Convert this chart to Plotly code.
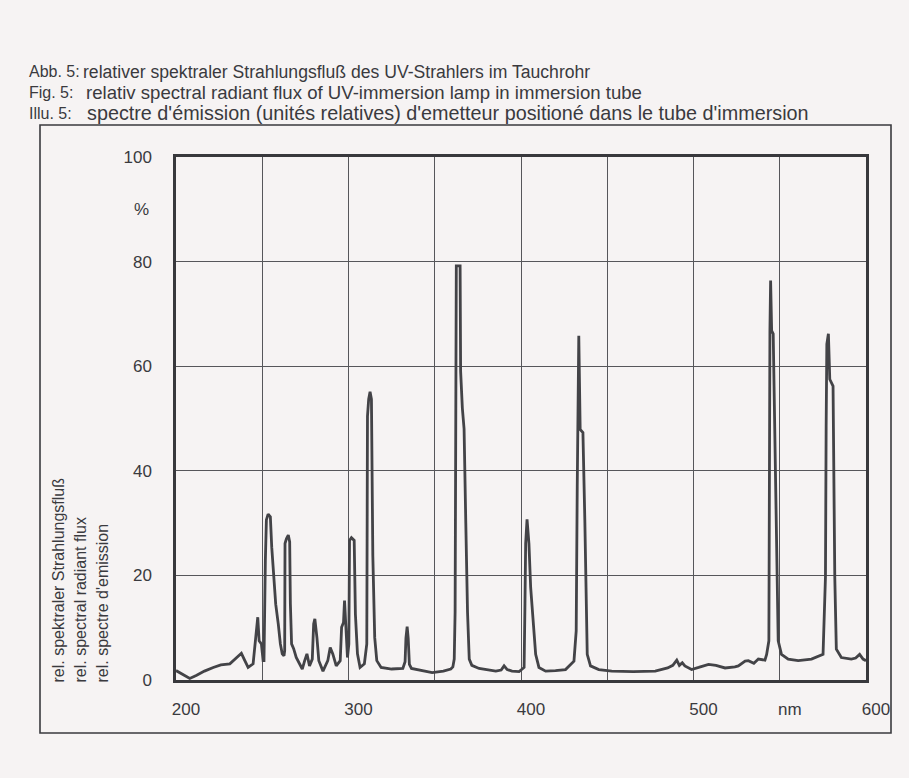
import plotly.graph_objects as go

# ---- data ----
wavelength_nm = [
    200.0, 202.3, 205, 208, 212, 216.5, 221.6, 226, 231.2, 235.1, 237.9, 239.9, 241.8, 244.7,
    246.2, 247.4, 248.2, 249.5, 250.5, 251.0, 251.8, 252.4, 253.4, 254.7, 255.5, 256.6, 257.8,
    259.3, 260.5, 261.6, 262.6, 263.0, 263.2, 264.0, 265.1, 265.9, 266.3, 267.0, 268.2, 269.7,
    271.7, 273.2, 274.6, 275.9, 277.4, 279.0, 279.8, 280.5, 281.7, 282.8, 285.2, 288.0, 289.4,
    290.9, 292.9, 295.2, 296.0, 297.1, 297.7, 298.6, 299.4, 300.2, 300.6, 301.7, 303.3, 304.0,
    305.2, 306.7, 309.2, 310.6, 311.0, 311.7, 312.5, 313.3, 314.1, 315.2, 316.4, 318.9, 325,
    331.5, 332.8, 333.3, 334.0, 334.6, 335.3, 336.5, 342, 348.5, 355, 359.3, 360.5, 361.3,
    361.8, 362.2, 362.3, 362.5, 364.7, 365.0, 366.0, 367.0, 368.0, 369.0, 370.0, 371.5, 375.7,
    385.4, 388.5, 390.2, 392, 394.8, 398.9, 401.8, 402.3, 402.7, 403.5, 404.6, 405.6, 406.9,
    408.5, 410.4, 414.3, 420, 425.8, 430.7, 432.0, 432.6, 433.0, 433.5, 434.3, 435.9, 437.0,
    438.4, 440.3, 445.1, 452.6, 465, 477.8, 485, 488, 490.3, 491.8, 493.5, 495, 498.9, 503,
    508.7, 513, 518.3, 524, 526, 529.9, 531.8, 535, 537.6, 541.4, 542.4, 543.7, 543.9, 544.3,
    544.7, 545.3, 546.2, 547.3, 548.2, 549.1, 551.0, 554.9, 560.7, 568.4, 575.1, 576.5, 576.9,
    577.3, 578.2, 579.0, 580.9, 581.9, 582.8, 585.7, 591.5, 594, 596.3, 598.3, 600,
]
rel_flux_pct = [
    1.8, 1.4, 0.8, 0.3, 0.9, 1.7, 2.4, 2.9, 3.1, 4.3, 5.1, 3.7, 2.4, 3.1,
    8.8, 12.0, 7.5, 6.9, 3.7, 3.7, 22.9, 30.6, 31.7, 31.2, 25.4, 19.7, 14.5,
    10.7, 6.9, 5.0, 4.6, 5.6, 26.1, 27.0, 27.7, 26.4, 14.6, 6.9, 6.0, 4.3,
    3.1, 2.1, 3.7, 5.0, 2.7, 4.0, 10.7, 11.7, 8.1, 3.7, 1.7, 3.7, 6.2,
    5.0, 2.7, 3.7, 10.1, 11.0, 15.2, 9.4, 4.3, 6.9, 26.7, 27.2, 26.7, 12.6,
    5.0, 2.4, 3.1, 6.9, 50.4, 53.7, 55.1, 53.7, 23.8, 8.1, 3.7, 2.4, 2.1,
    2.2, 3.5, 8.0, 10.2, 8.0, 3.0, 2.2, 1.8, 1.4, 1.7, 2.1, 2.5, 4.0,
    13.0, 45.0, 58.8, 79.2, 79.2, 59.0, 52.0, 48.0, 30.0, 13.0, 4.0, 2.8, 2.2,
    1.7, 1.9, 2.7, 2.0, 1.7, 1.6, 2.4, 14.6, 26.1, 30.7, 26.1, 17.7, 11.3,
    4.9, 2.4, 1.7, 1.8, 2.0, 3.6, 9.4, 37.0, 47.9, 65.8, 47.9, 47.3, 30.6,
    4.9, 2.7, 2.0, 1.7, 1.6, 1.7, 2.3, 2.8, 3.8, 2.8, 3.3, 2.7, 2.0, 2.4,
    3.0, 2.8, 2.3, 2.5, 2.7, 3.6, 3.7, 3.2, 4.0, 3.8, 4.9, 7.5, 49.8, 66.8,
    76.4, 66.8, 66.2, 45.0, 30.0, 7.5, 4.9, 4.0, 3.7, 4.0, 4.9, 19.7, 48.5,
    64.2, 66.2, 57.5, 56.2, 19.7, 5.9, 4.3, 4.0, 4.2, 4.9, 4.0, 3.7,
]

x_tickvals = [200, 250, 300, 350, 400, 450, 500, 550, 600]
x_ticktext = ["200", "", "300", "", "400", "", "500", "nm", "600"]
y_tickvals = [0, 20, 40, 60, 80, 100]
y_ticktext = ["0", "20", "40", "60", "80", "100"]

title_labels = ["Abb. 5:", "Fig. 5:", "Illu. 5:"]
title_texts = [
    "relativer spektraler Strahlungsfluß des UV-Strahlers im Tauchrohr",
    "relativ spectral radiant flux of UV-immersion lamp in immersion tube",
    "spectre d'émission (unités relatives) d'emetteur positioné dans le tube d'immersion",
]
ytitle_lines = [
    "rel. spektraler Strahlungsfluß",
    "rel. spectral radiant flux",
    "rel. spectre d'emission",
]

INK = "#3a3a3e"
BG = "#f6f3f3"
FONT = "Liberation Sans, Arial, sans-serif"

fig = go.Figure()
fig.add_trace(go.Scatter(
    x=wavelength_nm, y=rel_flux_pct, mode="lines",
    line=dict(color="#434347", width=2.8), hoverinfo="skip", showlegend=False,
))

W, H = 909, 778
L, R, T, B = 176, 43, 157, 98
pw, ph = W - L - R, H - T - B

def px2paper_x(px):
    return (px - L) / pw

def py2paper_y(py):
    return (H - B - py) / ph

annotations = []
# Title lines
title_y = [72, 92, 113]
text_sizes = [17.6, 18.6, 19.8]
text_x = [81, 84, 85]
for i in range(3):
    annotations.append(dict(
        text=title_labels[i], x=px2paper_x(27), y=py2paper_y(title_y[i]),
        xref="paper", yref="paper", xanchor="left", yanchor="middle", showarrow=False,
        font=dict(family=FONT, size=16, color=INK),
    ))
    annotations.append(dict(
        text=title_texts[i], x=px2paper_x(text_x[i]), y=py2paper_y(title_y[i]),
        xref="paper", yref="paper", xanchor="left", yanchor="middle", showarrow=False,
        font=dict(family=FONT, size=text_sizes[i], color=INK),
    ))
# Rotated y-axis title lines (left-aligned from bottom)
ytitle_x = [58, 80, 102]
for i in range(3):
    annotations.append(dict(
        text=ytitle_lines[i], x=px2paper_x(ytitle_x[i]), y=py2paper_y(685),
        xref="paper", yref="paper", xanchor="center", yanchor="bottom", showarrow=False,
        textangle=-90, font=dict(family=FONT, size=16, color=INK),
    ))
# "%" unit under the 100 label
annotations.append(dict(
    text="%", x=px2paper_x(151), y=90, xref="paper", yref="y",
    xanchor="right", yanchor="middle", showarrow=False,
    font=dict(family=FONT, size=17, color=INK),
))

fig.update_layout(
    width=W, height=H,
    margin=dict(l=L, r=R, t=T, b=B),
    paper_bgcolor=BG, plot_bgcolor=BG,
    annotations=annotations,
    shapes=[dict(
        type="rect", xref="paper", yref="paper",
        x0=px2paper_x(40), x1=px2paper_x(891), y0=py2paper_y(733), y1=py2paper_y(125),
        line=dict(color=INK, width=1.6), fillcolor="rgba(0,0,0,0)", layer="below",
    )],
)
fig.update_xaxes(
    range=[200, 600], tickvals=x_tickvals, ticktext=x_ticktext,
    showgrid=True, gridcolor="#56565a", gridwidth=1,
    showline=True, linecolor="#38383c", linewidth=2.5, mirror=True,
    ticks="", ticklabelstandoff=12, ticklabelshift=10,
    tickfont=dict(family=FONT, size=17, color=INK), zeroline=False,
)
fig.update_yaxes(
    range=[0, 100], tickvals=y_tickvals, ticktext=y_ticktext,
    showgrid=True, gridcolor="#56565a", gridwidth=1,
    showline=True, linecolor="#38383c", linewidth=2.5, mirror=True,
    ticks="", ticklabelstandoff=18,
    tickfont=dict(family=FONT, size=17, color=INK), zeroline=False,
)

fig.write_html("out.html")
